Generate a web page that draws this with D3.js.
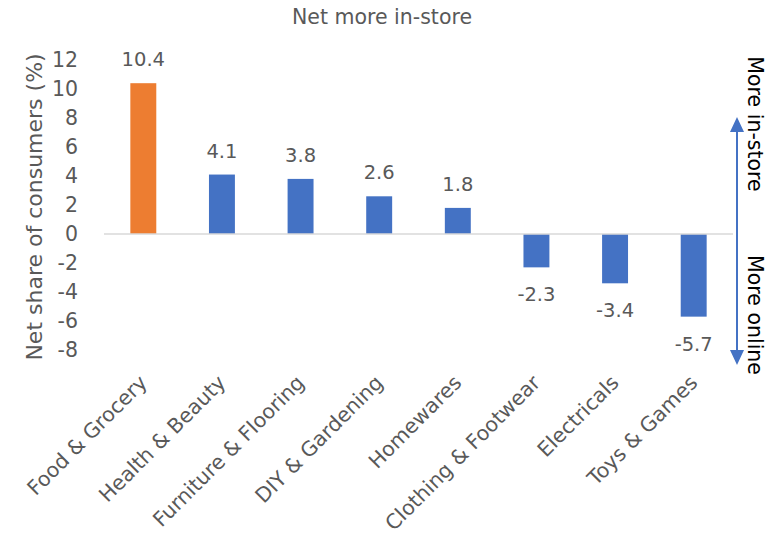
<!DOCTYPE html>
<html><head><meta charset="utf-8">
<script src="https://cdn.jsdelivr.net/npm/d3@7"></script>
<style>body{margin:0;background:#fff}svg{display:block}text{font-family:"DejaVu Sans",sans-serif}</style>
</head><body>
<script>
const categories = ["Food & Grocery","Health & Beauty","Furniture & Flooring","DIY & Gardening","Homewares","Clothing & Footwear","Electricals","Toys & Games"];
const values = [10.4, 4.1, 3.8, 2.6, 1.8, -2.3, -3.4, -5.7];
const highlight = ["Food & Grocery"];
const yTicks = [12,10,8,6,4,2,0,-2,-4,-6,-8];
const title = "Net more in-store";
const yTitle = "Net share of consumers (%)";
const sideTop = "More in-store", sideBottom = "More online";

const W = 770, H = 542;
const svg = d3.select("body").append("svg").attr("width", W).attr("height", H);
const x = d3.scaleBand().domain(categories).range([104, 733]).paddingInner(0.67).paddingOuter(0.335);
const y = d3.scaleLinear().domain([-8, 12]).range([350, 60]);
const gray = "#595959";

svg.append("text").attr("x", 382).attr("y", 24).attr("text-anchor", "middle")
  .attr("fill", gray).attr("font-size", 20.5).text(title);

// y tick labels
svg.append("g").selectAll("text").data(yTicks).join("text")
  .attr("x", 78).attr("y", d => y(d)).attr("dy", "0.36em").attr("text-anchor", "end")
  .attr("fill", gray).attr("font-size", 20.5).text(d => d);

svg.append("text").attr("transform", `translate(42,${(y(12)+y(-8))/2 + 2}) rotate(-90)`)
  .attr("text-anchor", "middle").attr("fill", gray).attr("font-size", 22).text(yTitle);

// bars
svg.append("g").selectAll("rect").data(values).join("rect")
  .attr("x", (d, i) => x(categories[i]))
  .attr("width", x.bandwidth())
  .attr("y", d => y(Math.max(0, d)))
  .attr("height", d => Math.abs(y(d) - y(0)))
  .attr("fill", (d, i) => highlight.includes(categories[i]) ? "#ED7D31" : "#4472C4");

// zero line
svg.append("line").attr("x1", 104).attr("x2", 733).attr("y1", y(0)).attr("y2", y(0))
  .attr("stroke", "#d9d9d9").attr("stroke-width", 1.5);

// value labels
svg.append("g").selectAll("text").data(values).join("text")
  .attr("x", (d, i) => x(categories[i]) + x.bandwidth() / 2)
  .attr("y", d => d >= 0 ? y(d) - 17 : y(d) + 34)
  .attr("text-anchor", "middle").attr("fill", gray).attr("font-size", 19.5)
  .text(d => d.toFixed(1));

// category labels
svg.append("g").selectAll("text").data(categories).join("text")
  .attr("transform", d => `translate(${x(d) + x.bandwidth()/2 + 5},${384}) rotate(-45)`)
  .attr("text-anchor", "end").attr("fill", gray).attr("font-size", 20.5).text(d => d);

// double arrow
const ax = 737, aTop = 117, aBot = 365, blue = "#4472C4";
svg.append("line").attr("x1", ax).attr("x2", ax).attr("y1", aTop + 12).attr("y2", aBot - 12)
  .attr("stroke", blue).attr("stroke-width", 2);
svg.append("path").attr("d", `M${ax},${aTop} L${ax-7},${aTop+15} L${ax+7},${aTop+15} Z`).attr("fill", blue);
svg.append("path").attr("d", `M${ax},${aBot} L${ax-7},${aBot-15} L${ax+7},${aBot-15} Z`).attr("fill", blue);

svg.append("text").attr("transform", `translate(748,124) rotate(90)`).attr("text-anchor", "middle")
  .attr("fill", "#000").attr("font-size", 20.5).text(sideTop);
svg.append("text").attr("transform", `translate(748,315) rotate(90)`).attr("text-anchor", "middle")
  .attr("fill", "#000").attr("font-size", 20.5).text(sideBottom);
</script>
</body></html>
